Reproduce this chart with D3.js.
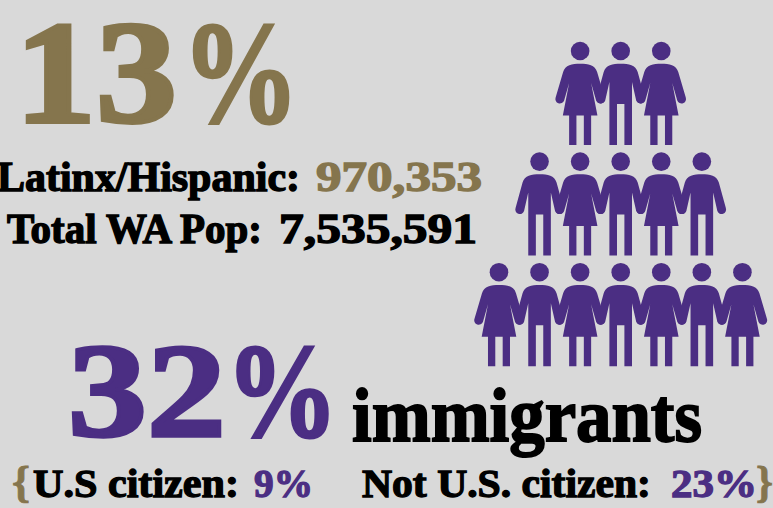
<!DOCTYPE html>
<html>
<head>
<meta charset="utf-8">
<script src="https://cdn.jsdelivr.net/npm/d3@7"></script>
<style>
  html, body { margin: 0; padding: 0; background: #d9d9d9; }
  svg { display: block; }
  text { font-family: "Liberation Serif", serif; font-weight: bold; }
</style>
</head>
<body>
<div id="chart"></div>
<script>
var width = 773
var height = 508

var gold = "#85754d"
var purple = "#4b2e83"
var black = "#000000"

// pictogram rows, f = woman, m = man, one column slot per letter
var peopleRows = ["  fmf  ", " mfmfm ", "fmfmfmf"]
var columnSlots = d3.range(7)

// the words on the page
var labels = ["13", "%", "Latinx/Hispanic:", "970,353", "Total WA Pop:", "7,535,591", "32", "%", "immigrants",
    "{", "U.S citizen:", "9%", "Not U.S. citizen:", "23%", "}"]
var labelColors = [gold, gold, black, gold, black, black, purple, purple, black, gold, black, purple, black, purple, gold]

// layout for the labels above: x, baseline, font size, width, stroke
var labelLayout = [
    [15, 122, 146, 162, 4],
    [182, 122, 146, 117, 3],
    [-3, 191, 42, 303, 1.4],
    [316, 191, 42, 166, 1.4],
    [7, 243, 42, 255, 1.4],
    [279, 243, 42, 198, 1.4],
    [68, 436, 133, 158, 3.5],
    [226, 436, 133, 112, 3],
    [352, 441, 76, 350, 1.8],
    [12, 497, 44, 18, 0.8],
    [33, 497, 41, 206, 1.3],
    [254, 497, 41, 59, 1.3],
    [362, 497, 41, 289, 1.3],
    [671, 497, 41, 86, 1.3],
    [756, 497, 44, 17, 0.8]
]

var svg = d3.select("#chart").append("svg")
    .attr("width", width)
    .attr("height", height)

svg.append("rect")
    .attr("width", width)
    .attr("height", height)
    .attr("fill", "#d9d9d9")

// text
svg.append("g").selectAll("text")
    .data(labels)
    .enter()
    .append("text")
    .attr("x", function(d, i) { return labelLayout[i][0] })
    .attr("y", function(d, i) { return labelLayout[i][1] })
    .attr("font-size", function(d, i) { return labelLayout[i][2] })
    .attr("textLength", function(d, i) { return labelLayout[i][3] })
    .attr("lengthAdjust", "spacingAndGlyphs")
    .attr("fill", function(d, i) { return labelColors[i] })
    .attr("stroke", function(d, i) { return labelColors[i] })
    .attr("stroke-width", function(d, i) { return labelLayout[i][4] })
    .text(function(d) { return d })

// people
var xScale = d3.scaleBand()
    .domain(columnSlots)
    .range([478.7, 762.7])

var yScale = d3.scaleBand()
    .domain(d3.range(peopleRows.length))
    .range([41.7, 373.5])

// icon drawn around the head centre
var manPath = "M0,12.7 C-8,12.7 -15,14 -17,21 L-24,46.5 A4.4,4.4 0 0 0 -15.5,49.5 L-11.3,31 L-11.3,94 L-3.7,94 L-3.7,53 L3.7,53 L3.7,94 L11.3,94 L11.3,31 L15.5,49.5 A4.4,4.4 0 0 0 24,46.5 L17,21 C15,14 8,12.7 0,12.7 Z"
var womanPath = "M0,12.7 C-8,12.7 -15,14 -17,21 L-24.5,46.5 A4.4,4.4 0 0 0 -16,49.5 L-11,32 L-17.3,64.5 L-11,64.5 L-11,94 L-3.7,94 L-3.7,64.5 L3.7,64.5 L3.7,94 L11,94 L11,64.5 L17.3,64.5 L11,32 L16,49.5 A4.4,4.4 0 0 0 24.5,46.5 L17,21 C15,14 8,12.7 0,12.7 Z"

var people = []
peopleRows.forEach(function(row, r) {
    row.split("").forEach(function(kind, c) {
        if (kind != " ") people.push({row: r, col: c, kind: kind})
    })
})

var personG = svg.append("g").selectAll("g")
    .data(people)
    .enter()
    .append("g")
    .attr("transform", function(d) {
        return "translate(" + (xScale(d.col) + xScale.bandwidth() / 2) + "," + (yScale(d.row) + 9.3) + ")"
    })
    .attr("fill", purple)

personG.append("circle")
    .attr("r", 9.3)

personG.append("path")
    .attr("d", function(d) { return d.kind == "f" ? womanPath : manPath })
</script>
</body>
</html>
